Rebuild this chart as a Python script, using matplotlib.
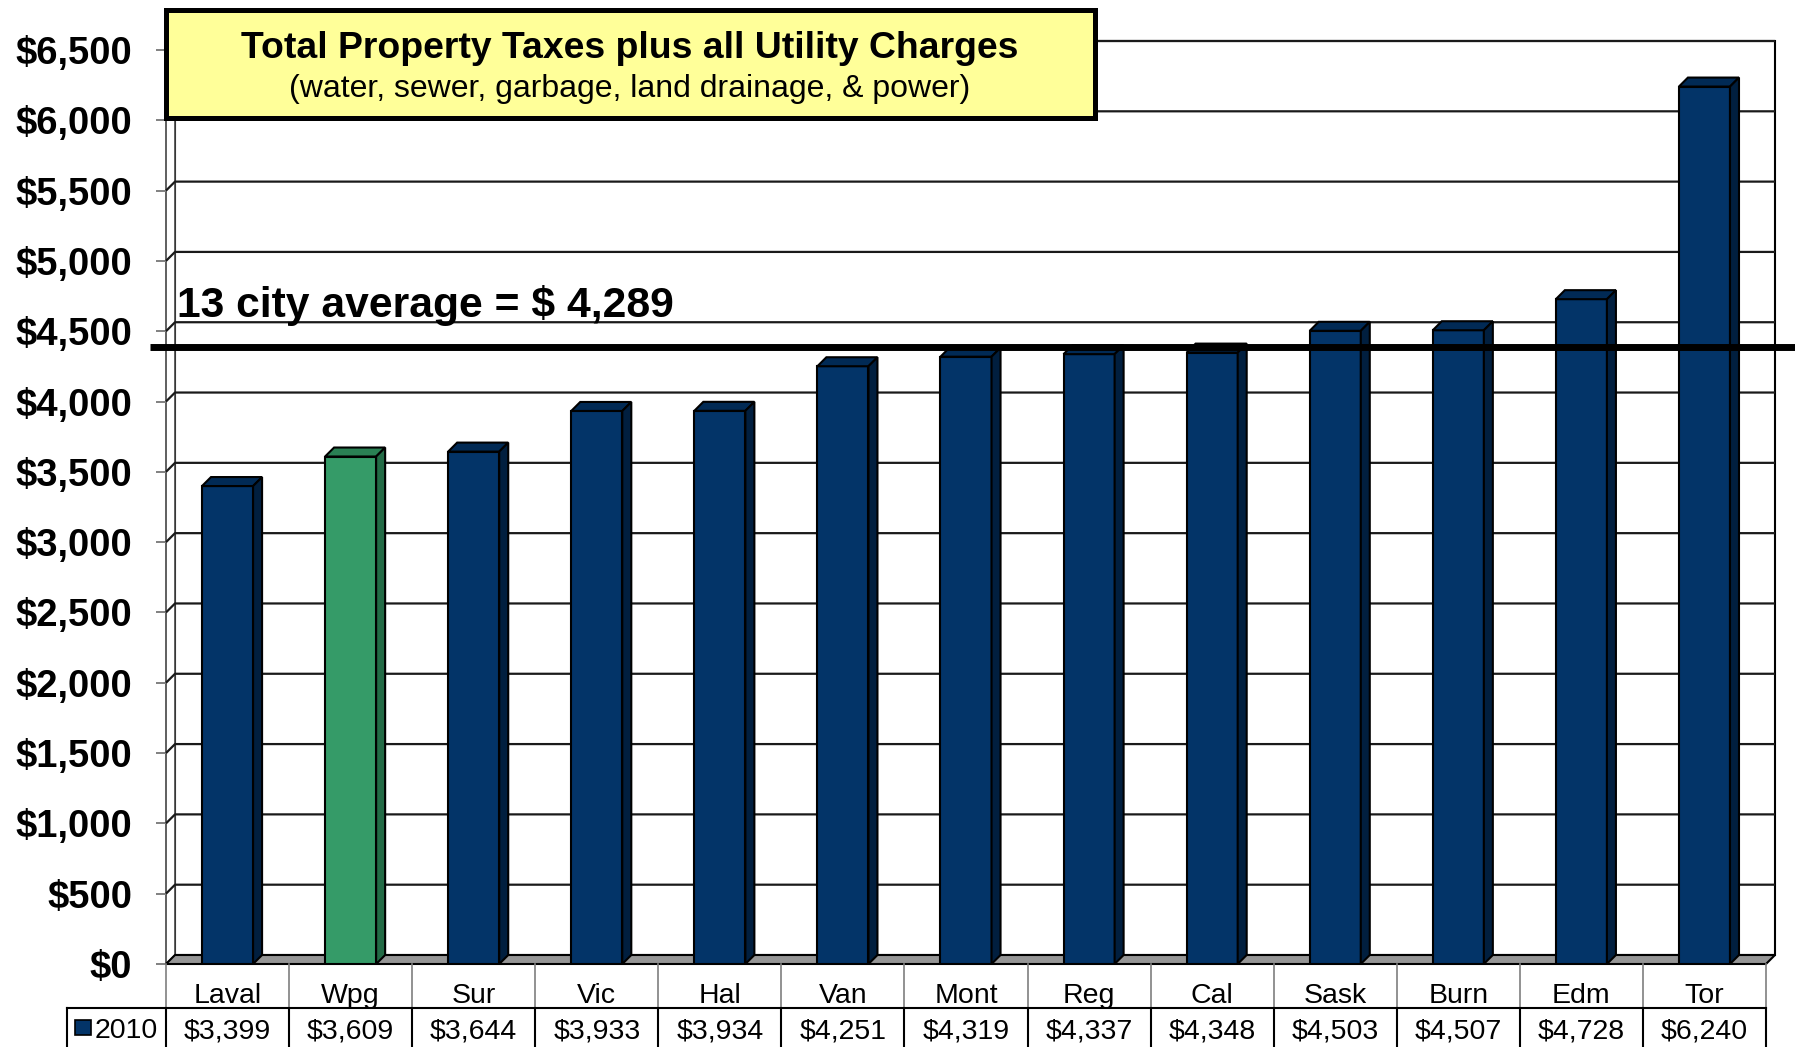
import numpy as np
import matplotlib
matplotlib.use("Agg")
import matplotlib.pyplot as plt
import matplotlib.transforms as mtransforms
from matplotlib.patches import Rectangle

plt.rcParams['font.family'] = ['Liberation Sans', 'DejaVu Sans']

# ---------------- data ----------------
cities = ["Laval", "Wpg", "Sur", "Vic", "Hal", "Van", "Mont", "Reg", "Cal",
          "Sask", "Burn", "Edm", "Tor"]
values_2010 = [3399, 3609, 3644, 3933, 3934, 4251, 4319, 4337, 4348,
               4503, 4507, 4728, 6240]
highlight = "Wpg"
series_name = "2010"
avg_label_value = 4289          # value written in the label
avg_line_level = 4385           # where the thick line is drawn in the picture
y_ticks = list(range(0, 7000, 500))
y_tick_labels = ["${:,}".format(v) for v in y_ticks]
title_line1 = "Total Property Taxes plus all Utility Charges"
title_line2 = "(water, sewer, garbage, land drainage, & power)"

# ---------------- figure ----------------
W, H = 1795, 1047
fig = plt.figure(figsize=(W / 100, H / 100), dpi=100)
fig.patch.set_facecolor("white")

x_left, x_right = 166, 1766
y_zero, y_top = 964, 50
ax = fig.add_axes([x_left / W, (H - y_zero) / H, (x_right - x_left) / W, (y_zero - y_top) / H])
ax.set_xlim(-0.5, len(cities) - 0.5)
ax.set_ylim(0, 6500)
ax.patch.set_visible(False)
for s in ax.spines.values():
    s.set_visible(False)

px_per_cat = (x_right - x_left) / len(cities)
px_per_unit = (y_zero - y_top) / 6500.0
DX = 9 / px_per_cat
DY = 9 / px_per_unit
x0, x1 = -0.5, len(cities) - 0.5
ymax = 6500

# back wall
ax.fill([x0 + DX, x1 + DX, x1 + DX, x0 + DX], [DY, DY, ymax + DY, ymax + DY],
        facecolor="white", edgecolor="black", lw=1.5, zorder=1, clip_on=False)
# left wall
ax.fill([x0, x0 + DX, x0 + DX, x0], [0, DY, ymax + DY, ymax],
        facecolor="white", edgecolor="#444444", lw=1.2, zorder=1, clip_on=False)
# gridlines (back wall + left wall diagonal)
for v in y_ticks[1:]:
    ax.plot([x0, x0 + DX, x1 + DX], [v, v + DY, v + DY], color="#1a1a1a",
            lw=1.6, zorder=2, clip_on=False, solid_capstyle="butt")
# floor
ax.fill([x0, x1, x1 + DX, x0 + DX], [0, 0, DY, DY],
        facecolor="#969696", edgecolor="black", lw=1.5, zorder=3, clip_on=False)

# bars
x = np.arange(len(cities))
bw = 0.415
navy = ("#033468", "#012A55", "#011F3F")
green = ("#359B68", "#2A8054", "#236B46")
for xi, v, c in zip(x, values_2010, cities):
    front, top, side = green if c == highlight else navy
    ax.bar(xi, v, width=bw, color=front, edgecolor="black", lw=1.5, zorder=4)
    l, r = xi - bw / 2, xi + bw / 2
    ax.fill([l, r, r + DX, l + DX], [v, v, v + DY, v + DY], facecolor=top,
            edgecolor="black", lw=1.5, zorder=4, clip_on=False)
    ax.fill([r, r + DX, r + DX, r], [0, DY, v + DY, v], facecolor=side,
            edgecolor="black", lw=1.5, zorder=4, clip_on=False)

# y axis ticks
ax.set_xticks([])
ax.set_yticks(y_ticks)
ax.set_yticklabels(y_tick_labels, fontsize=27.5, fontweight="bold")
ax.tick_params(axis="y", length=7.5, width=1.4, color="#808080", pad=17)

# average line and label
bt = mtransforms.blended_transform_factory(ax.transAxes, ax.transData)
ax.plot([(150 - x_left) / (x_right - x_left), (1795 - x_left) / (x_right - x_left)],
        [avg_line_level, avg_line_level], transform=bt, color="black", lw=5,
        zorder=6, clip_on=False, solid_capstyle="butt")
ax.text(-0.41, 4680, "13 city average = $ {:,}".format(avg_label_value),
        fontsize=30.7, fontweight="bold", ha="left", va="center", zorder=7)

# data table
tt = mtransforms.blended_transform_factory(ax.transData, fig.transFigure)
def fy(py):
    return 1 - py / H
row_split = 1008
for i in range(len(cities) + 1):
    xb = i - 0.5
    ax.plot([xb, xb], [fy(964), fy(row_split)], transform=tt, color="#7f7f7f",
            lw=1.2, clip_on=False, zorder=3)
    ax.plot([xb, xb], [fy(row_split), fy(1047)], transform=tt, color="black",
            lw=1.5, clip_on=False, zorder=3)
leg_x = -0.5 - (x_left - 67) / px_per_cat
ax.plot([leg_x, x1], [fy(row_split), fy(row_split)], transform=tt, color="black",
        lw=1.5, clip_on=False)
ax.plot([leg_x, leg_x], [fy(row_split), fy(1047)], transform=tt, color="black",
        lw=1.5, clip_on=False)
for xi, c, v in zip(x, cities, values_2010):
    ax.text(xi, fy(996), c, transform=tt, ha="center", va="center", fontsize=20.5)
    ax.text(xi, fy(1031), "${:,}".format(v), transform=tt, ha="center",
            va="center", fontsize=20.5)
# legend key in table
fig.patches.append(Rectangle((75 / W, fy(1035)), 16 / W, 15 / H, transform=fig.transFigure,
                             facecolor=navy[0], edgecolor="black", lw=1.2))
fig.text(95 / W, fy(1031), series_name, ha="left", va="center", fontsize=20.5)

# title box
fig.patches.append(Rectangle((166 / W, fy(118)), (1095 - 166) / W, (118 - 10) / H,
                             transform=fig.transFigure, facecolor="#FFFF99",
                             edgecolor="black", lw=3.6, zorder=10))
fig.text(630 / W, fy(48), title_line1, ha="center", va="center", fontsize=26.9,
         fontweight="bold", zorder=11)
fig.text(630 / W, fy(89), title_line2, ha="center", va="center", fontsize=23,
         zorder=11)

fig.savefig("out.png", dpi=100)
